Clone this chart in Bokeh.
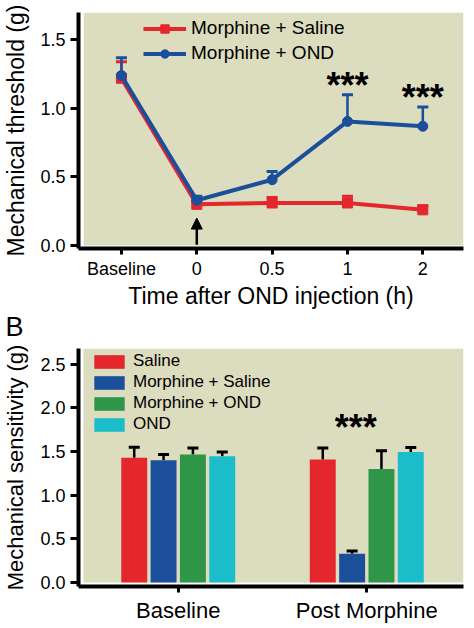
from bokeh.plotting import figure
from bokeh.layouts import column
from bokeh.models import (FixedTicker, Legend, LegendItem, Range1d, BoxAnnotation,
                          Arrow, NormalHead, Title)
from bokeh.core.properties import value
from bokeh.embed import file_html
from bokeh.resources import INLINE

FONT = "Liberation Sans"
BG = "#dcdcbe"
RED = "#e4262d"
BLUE = "#1c4f9b"
GREEN = "#2f9548"
CYAN = "#1bbdca"

# ---- Panel A data ----
time_labels = ["Baseline", "0", "0.5", "1", "2"]
time_idx = [0, 1, 2, 3, 4]
saline_mean = [1.22, 0.30, 0.31, 0.31, 0.26]
saline_err = [0.12, 0.02, 0.04, 0.05, 0.03]
ond_mean = [1.24, 0.33, 0.48, 0.905, 0.87]
ond_err = [0.13, 0.03, 0.06, 0.195, 0.14]
sig_a_idx = [3, 4]
sig_a_y = [1.17, 1.08]

# ---- Panel B data ----
groups = ["Baseline", "Post Morphine"]
group_idx = [0, 1]
series_names = ["Saline", "Morphine + Saline", "Morphine + OND", "OND"]
series_colors = [RED, BLUE, GREEN, CYAN]
series_means = [
    [1.43, 1.41],
    [1.40, 0.33],
    [1.465, 1.30],
    [1.445, 1.495],
]
series_errs = [
    [0.12, 0.13],
    [0.065, 0.03],
    [0.075, 0.21],
    [0.05, 0.05],
]
sig_b_x = [0.942]
sig_b_y = [1.78]


def style_axes(p, label_size, title_size):
    for ax in (p.xaxis[0], p.yaxis[0]):
        ax.axis_line_width = 4
        ax.axis_line_color = "black"
        ax.major_tick_line_width = 3
        ax.major_tick_line_color = "black"
        ax.major_tick_in = 0
        ax.minor_tick_line_color = None
        ax.major_label_text_font = FONT
        ax.major_label_text_color = "black"
        ax.axis_label_text_font = FONT
        ax.axis_label_text_font_style = "normal"
        ax.axis_label_text_font_size = title_size
        ax.axis_label_text_color = "black"
    p.yaxis[0].major_tick_out = 8
    p.xaxis[0].major_tick_out = 6
    p.yaxis[0].major_label_text_font_size = "18px"
    p.xaxis[0].major_label_text_font_size = label_size
    p.xgrid.grid_line_color = None
    p.ygrid.grid_line_color = None
    p.outline_line_color = None


# ================= Panel A =================
pa = figure(width=474, height=343, output_backend="svg", toolbar_location=None,
            x_range=Range1d(-0.57, 4.54), y_range=Range1d(-0.022, 1.70),
            min_border_left=77, min_border_right=11, min_border_top=12, min_border_bottom=95,
            background_fill_color="white", border_fill_color="white")
pa.add_layout(BoxAnnotation(left=-0.5, bottom=0, fill_color=BG, fill_alpha=1,
                            line_color=None, level="underlay"))
style_axes(pa, "18px", "23px")
pa.xaxis.ticker = FixedTicker(ticks=time_idx)
pa.xaxis.major_label_overrides = {i: l for i, l in zip(time_idx, time_labels)}
pa.yaxis.ticker = FixedTicker(ticks=[0, 0.5, 1.0, 1.5])
pa.yaxis.major_label_overrides = {0: "0.0", 0.5: "0.5", 1: "1.0", 1.5: "1.5"}
pa.xaxis.axis_label = "Time after OND injection (h)"
pa.yaxis.axis_label = "Mechanical threshold (g)"
pa.yaxis.major_label_standoff = 5
pa.xaxis.major_label_standoff = 4
pa.xaxis.axis_label_standoff = 1
pa.yaxis.axis_label_standoff = 8

s_up = [m + e for m, e in zip(saline_mean, saline_err)]
o_up = [m + e for m, e in zip(ond_mean, ond_err)]
pa.segment(time_idx, saline_mean, time_idx, s_up, line_color=RED, line_width=2.5)
pa.scatter(time_idx, s_up, marker="dash", size=11, line_color=RED, line_width=3)
r_line = pa.line(time_idx, saline_mean, line_color=RED, line_width=4)
r_mark = pa.scatter(time_idx, saline_mean, marker="square", size=10, fill_color=RED,
                    line_color=RED)
pa.segment(time_idx, ond_mean, time_idx, o_up, line_color=BLUE, line_width=2.5)
pa.scatter(time_idx, o_up, marker="dash", size=11, line_color=BLUE, line_width=3)
b_line = pa.line(time_idx, ond_mean, line_color=BLUE, line_width=4)
b_mark = pa.scatter(time_idx, ond_mean, marker="circle", size=10, fill_color=BLUE,
                    line_color=BLUE)

pa.text(sig_a_idx, sig_a_y, text=["***"] * len(sig_a_idx), text_font=value(FONT),
        text_font_size="36px", text_font_style="bold", text_align="center",
        text_baseline="middle", text_color="black")

pa.add_layout(Arrow(end=NormalHead(size=11, fill_color="black", line_color="black"),
                    x_start=1, y_start=0.005, x_end=1, y_end=0.20,
                    line_width=2.5, line_color="black"))

leg_a = Legend(items=[LegendItem(label="Morphine + Saline", renderers=[r_line, r_mark]),
                      LegendItem(label="Morphine + OND", renderers=[b_line, b_mark])],
               location=(65, 184), background_fill_alpha=0, border_line_color=None,
               padding=0, margin=0, spacing=3, glyph_width=43, glyph_height=21,
               label_height=21, label_standoff=5, label_text_font=FONT,
               label_text_font_size="19px", label_text_color="black")
pa.add_layout(leg_a)

pa.add_layout(Title(text="B", text_font=FONT, text_font_size="27px",
                    text_font_style="normal", text_color="black", align="left",
                    vertical_align="top", offset=-73, standoff=0), "below")

# ================= Panel B =================
pb = figure(width=474, height=283, output_backend="svg", toolbar_location=None,
            x_range=Range1d(-0.529, 1.513), y_range=Range1d(-0.046, 2.68),
            min_border_left=77, min_border_right=11, min_border_top=5, min_border_bottom=40,
            background_fill_color="white", border_fill_color="white")
pb.add_layout(BoxAnnotation(left=-0.503, bottom=0, fill_color=BG, fill_alpha=1,
                            line_color=None, level="underlay"))
style_axes(pb, "22px", "22px")
pb.xaxis.ticker = FixedTicker(ticks=group_idx)
pb.xaxis.major_label_overrides = {i: g for i, g in zip(group_idx, groups)}
pb.yaxis.ticker = FixedTicker(ticks=[0, 0.5, 1.0, 1.5, 2.0, 2.5])
pb.yaxis.major_label_overrides = {0: "0.0", 0.5: "0.5", 1: "1.0", 1.5: "1.5",
                                  2: "2.0", 2.5: "2.5"}
pb.yaxis.axis_label = "Mechanical sensitivity (g)"
pb.yaxis.major_label_standoff = 5
pb.xaxis.major_label_standoff = 5
pb.yaxis.axis_label_standoff = 9

pitch = 0.1556
bw = 0.1376
offsets = [-1.5, -0.5, 0.5, 1.5]
items_b = []
for name, col, means, errs, off in zip(series_names, series_colors, series_means,
                                        series_errs, offsets):
    xs = [g + off * pitch for g in group_idx]
    ups = [m + e for m, e in zip(means, errs)]
    pb.segment(xs, means, xs, ups, line_color="black", line_width=2.5)
    pb.scatter(xs, ups, marker="dash", size=11, line_color="black", line_width=3)
    r = pb.vbar(x=xs, top=means, bottom=0, width=bw, fill_color=col, line_color=None)
    items_b.append(LegendItem(label=name, renderers=[r]))

pb.text(sig_b_x, sig_b_y, text=["***"], text_font=value(FONT), text_font_size="36px",
        text_font_style="bold", text_align="center", text_baseline="middle",
        text_color="black")

leg_b = Legend(items=items_b, location=(12, 152), background_fill_alpha=0,
               border_line_color=None, padding=0, margin=0, spacing=1, glyph_width=38,
               glyph_height=17, label_height=20, label_standoff=5, label_text_font=FONT,
               label_text_font_size="17px", label_text_color="black")
pb.add_layout(leg_b)

layout = column(pa, pb, spacing=0)
open("out.html", "w").write(file_html(layout, INLINE))
